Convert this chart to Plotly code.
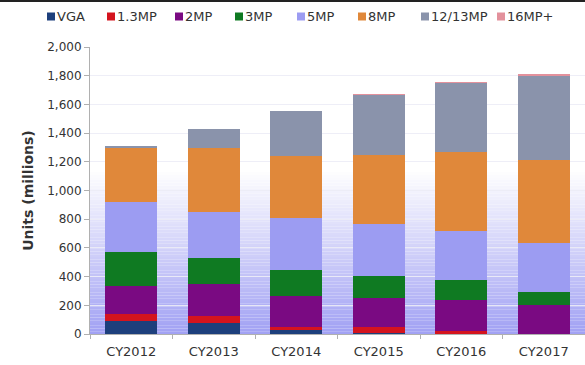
import plotly.graph_objects as go

years = ["CY2012", "CY2013", "CY2014", "CY2015", "CY2016", "CY2017"]
series_names = ["VGA", "1.3MP", "2MP", "3MP", "5MP", "8MP", "12/13MP", "16MP+"]

vga = [90, 75, 25, 5, 3, 1]
mp1_3 = [50, 53, 23, 42, 15, 2]
mp2 = [195, 218, 219, 203, 219, 199]
mp3 = [233, 186, 180, 155, 139, 88]
mp5 = [350, 320, 360, 365, 342, 342]
mp8 = [383, 442, 430, 480, 548, 581]
mp12_13 = [10, 137, 315, 420, 485, 587]
mp16 = [0, 0, 0, 2, 3, 6]

values = [vga, mp1_3, mp2, mp3, mp5, mp8, mp12_13, mp16]
colors = ["#1d3f7c", "#d4141e", "#7a0a82", "#0f7a22", "#9c9cf2",
          "#e0883a", "#8a93ab", "#e3919c"]
legend_x = [47, 107, 175, 235, 297, 358, 421, 497]

FONT = "DejaVu Sans, Verdana, sans-serif"
L, T, B, W, H = 90, 47, 31, 585, 365
PW, PH = W - L, H - T - B


def px_x(x):
    return (x - L) / PW


def px_y(y):
    return (H - B - y) / PH


fig = go.Figure()
for name, vals, col in zip(series_names, values, colors):
    fig.add_trace(go.Bar(
        x=years, y=vals, name=name,
        marker=dict(color=col, line=dict(width=0)),
    ))

# soft lavender wash rising from the baseline
shapes = []
n_bands = 60
top_val = 1150
for i in range(n_bands):
    y0 = top_val * i / n_bands
    y1 = top_val * (i + 1) / n_bands
    t = i / (n_bands - 1)
    r = int(162 + (255 - 162) * t)
    g = int(162 + (255 - 162) * t)
    b = int(244 + (255 - 244) * t)
    shapes.append(dict(type="rect", xref="paper", yref="y", x0=0, x1=1,
                       y0=y0, y1=y1, fillcolor=f"rgb({r},{g},{b})",
                       line=dict(width=0), layer="below"))
# thin dark rule along the top edge
shapes.append(dict(type="line", xref="paper", yref="paper", x0=px_x(0), x1=1.0,
                   y0=px_y(1), y1=px_y(1), line=dict(color="#222222", width=2)))

# legend row: coloured square followed by the series name
annotations = []
for name, col, lx in zip(series_names, colors, legend_x):
    shapes.append(dict(
        type="rect", xref="paper", yref="paper",
        x0=px_x(lx), x1=px_x(lx + 8), y0=px_y(20.5), y1=px_y(12.5),
        fillcolor=col, line=dict(width=0), layer="above",
    ))
    annotations.append(dict(
        xref="paper", yref="paper", x=px_x(lx + 8), y=px_y(16),
        xanchor="left", yanchor="middle", showarrow=False,
        text=name, font=dict(family=FONT, size=13, color="#333333"),
    ))

fig.update_layout(
    barmode="stack",
    bargap=0.37,
    width=W, height=H,
    margin=dict(l=L, r=0, t=T, b=B, autoexpand=False),
    paper_bgcolor="white",
    plot_bgcolor="white",
    font=dict(family=FONT, size=12, color="#333333"),
    shapes=shapes,
    annotations=annotations,
    showlegend=False,
)
fig.update_xaxes(
    showline=True, linecolor="#b0b0b0", linewidth=1,
    ticks="outside", tickson="boundaries", ticklen=4, tickcolor="#b0b0b0",
    tickfont=dict(family=FONT, size=13, color="#333333"), ticklabelstandoff=5,
    showgrid=False,
)
fig.update_yaxes(
    range=[0, 2000], dtick=200, tickformat=",d",
    showline=True, linecolor="#b0b0b0", linewidth=1,
    ticks="outside", ticklen=5, tickcolor="#b0b0b0",
    gridcolor="rgba(236,236,246,0.9)", gridwidth=1,
    tickfont=dict(family=FONT, size=12, color="#333333"),
    title=dict(text="<b>Units (millions)</b>",
               font=dict(family=FONT, size=14, color="#333333"), standoff=10),
    zeroline=False,
)

fig.write_html("out.html")
